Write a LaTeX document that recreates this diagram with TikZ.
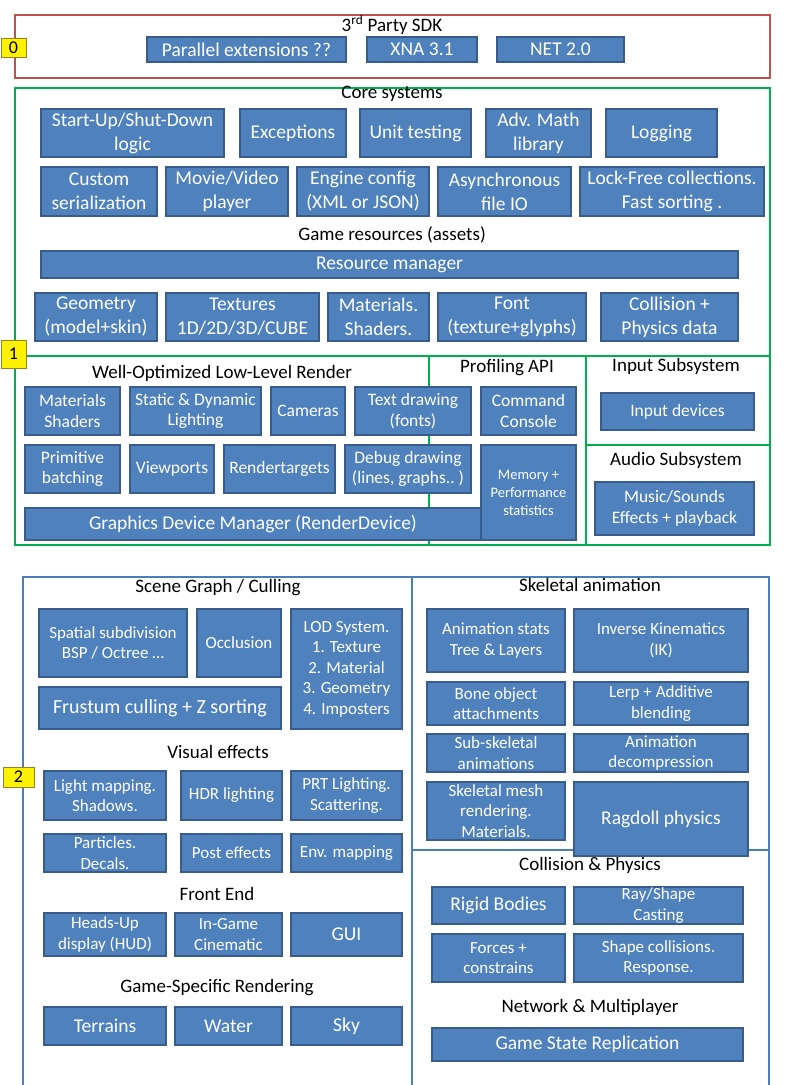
\documentclass[tikz,border=0pt]{standalone}
\usepackage{fontspec}
\setmainfont{Carlito}
\definecolor{boxblue}{RGB}{79,129,189}
\definecolor{boxedge}{RGB}{56,93,138}
\definecolor{sdkred}{RGB}{192,80,77}
\definecolor{coregreen}{RGB}{0,176,80}
\definecolor{gameblue}{RGB}{74,126,187}
\definecolor{tagedge}{RGB}{150,130,40}
\tikzset{
  blk/.style={fill=boxblue,draw=boxedge,line width=1.2pt,text=white,align=center,inner sep=0pt,outer sep=0pt,font=\fontsize{17.5}{20.5}\selectfont},
  blktop/.style={blk,font=\fontsize{19.5}{24}\selectfont},
  blklow/.style={blk,font=\fontsize{17}{20.5}\selectfont},
  blkbig/.style={blk,font=\fontsize{19.5}{23}\selectfont},
  hdr/.style={text=black,inner sep=0pt,font=\fontsize{19}{22}\selectfont},
  tag/.style={fill=yellow,draw=tagedge,line width=.8pt,inner sep=0pt,font=\fontsize{18}{20}\selectfont},
  % box given by its two corners
  span/.style n args={4}{minimum width={(#3-#1)*1pt},minimum height={(#4-#2)*1pt}}
}
\begin{document}
\begin{tikzpicture}[x=1pt,y=-1pt]
\useasboundingbox (0,0) rectangle (785,1085);
% frames
\draw[sdkred,line width=1.5pt] (15,15) rectangle (770,78);
\draw[coregreen,line width=1.5pt] (15,88) rectangle (770,545)
  (15,356)--(770,356) (429,356)--(429,545) (586,356)--(586,545) (586,445)--(770,445);
\draw[gameblue,line width=1.5pt] (23,1095)--(23,577)--(769,577)--(769,1095)
  (412,577)--(412,1095) (412,850)--(769,850);
% level tags
\foreach \n/\xa/\ya/\xb/\yb/\t in {t0/1/38/26/57/0,t1/1/340/26/368/1,t2/3/767/34/787/2}
  \path ({(\xa+\xb)/2},{(\ya+\yb)/2}) node[tag,span={\xa}{\ya}{\xb}{\yb}] (\n) {\t};
% titles
\path
  foreach \n/\x/\y/\t in {sdk/392/25/{3\textsuperscript{rd} Party SDK},core/392/94/Core systems,
    res/392/235/Game resources (assets),llr/222/373/Well-Optimized Low-Level Render,
    prof/507/368/Profiling API,inp/676/366/Input Subsystem,aud/676/460/Audio Subsystem,
    scg/218/588/{Scene Graph / Culling},vfx/218/752/Visual effects,fe/217/894/Front End,
    gsr/217/988/Game-Specific Rendering,skel/590/585/Skeletal animation,
    cphy/590/865/Collision \& Physics,net/590/1007/Network \& Multiplayer}
  {(\x,\y) node[hdr] (h\n) {\t}};
% 3rd party + core
\foreach \n/\xa/\ya/\xb/\yb/\t in {
    par/147/37/346/62/Parallel extensions ??,xna/367/37/477/62/XNA 3.1,netf/497/37/624/62/NET 2.0,
    su/41/109/224/157/{Start-Up/Shut-Down\\logic},exc/240/109/346/157/Exceptions,
    ut/360/109/471/157/Unit testing,am/486/109/591/157/Adv. Math\\library,log/606/109/717/157/Logging,
    cs/41/167/157/216/Custom\\serialization,mv/166/167/288/216/{Movie/Video\\player},
    ec/297/167/429/216/Engine config\\(XML or JSON),af/438/167/571/216/Asynchronous\\file IO,
    lf/580/167/764/216/Lock-Free collections.\\Fast sorting .,
    rm/41/251/738/278/Resource manager,
    geo/35/293/157/341/Geometry\\(model+skin),tex/166/293/319/341/{Textures\\1D/2D/3D/CUBE},
    mat/328/293/429/341/Materials.\\Shaders.,fnt/438/293/586/341/Font\\(texture+glyphs),
    col/601/293/738/341/Collision +\\Physics data}
  \path ({(\xa+\xb)/2},{(\ya+\yb)/2}) node[blktop,span={\xa}{\ya}{\xb}{\yb}] (\n) {\t};
% render, profiling, input, audio
\foreach \n/\xa/\ya/\xb/\yb/\t in {
    ms/25/387/120/435/Materials\\Shaders,sd/130/387/261/435/Static \& Dynamic\\Lighting,
    cam/271/387/345/435/Cameras,td/355/387/471/435/Text drawing\\(fonts),
    cc/481/387/576/435/Command\\Console,pb/25/445/120/493/Primitive\\batching,
    vp/130/445/214/493/Viewports,rt/224/445/335/493/Rendertargets,
    dd/345/445/471/493/{Debug drawing\\(lines, graphs..\ )},
    id/601/393/754/430/Input devices,mu/595/482/754/535/{Music/Sounds\\Effects + playback}}
  \path ({(\xa+\xb)/2},{(\ya+\yb)/2}) node[blk,span={\xa}{\ya}{\xb}{\yb}] (\n) {\t};
\node[blk,font=\fontsize{14.5}{18}\selectfont,span={481}{445}{576}{540}] (mp) at (528.5,492.5) {Memory +\\Performance\\statistics};
\node[blk,font=\fontsize{19.5}{22}\selectfont,span={25}{508}{481}{540}] (gdm) at (253,524) {Graphics Device Manager (RenderDevice)};
% game layer
\foreach \n/\xa/\ya/\xb/\yb/\t in {
    ss/39/609/187/677/{Spatial subdivision\\BSP / Octree \ldots},occ/197/609/281/677/Occlusion,
    lod/291/609/402/729/LOD System.\\1. Texture\\2. Material\\3. Geometry\\4. Imposters,
    lm/44/771/166/820/Light mapping.\\Shadows.,hdrl/181/771/282/820/HDR lighting,
    prt/291/771/402/820/PRT Lighting.\\Scattering.,pd/44/834/166/872/Particles.\\Decals.,
    pe/181/834/282/872/Post effects,env/291/834/402/872/Env. mapping,
    hud/44/913/166/956/Heads-Up\\display (HUD),igc/175/913/282/956/In-Game\\Cinematic,
    as/427/609/565/672/Animation stats\\Tree \& Layers,ik/574/609/748/672/Inverse Kinematics\\(IK),
    bo/427/682/565/725/Bone object\\attachments,lerp/574/682/748/725/Lerp + Additive\\blending,
    sub/427/734/565/772/Sub-skeletal\\animations,dec/574/734/748/772/Animation\\decompression,
    smr/427/782/565/840/Skeletal mesh\\rendering.\\Materials.,
    rs/574/887/743/924/{Ray/Shape\\Casting},fc/432/934/565/982/Forces +\\constrains,
    sc/574/934/743/982/Shape collisions.\\Response.}
  \path ({(\xa+\xb)/2},{(\ya+\yb)/2}) node[blklow,span={\xa}{\ya}{\xb}{\yb}] (\n) {\t};
\foreach \n/\xa/\ya/\xb/\yb/\t in {
    gui/291/913/402/956/GUI,
    ter/44/1007/166/1045/Terrains,wat/175/1007/282/1045/Water,sky/291/1007/402/1045/Sky,
    rag/574/782/748/856/Ragdoll physics,rb/432/887/565/924/Rigid Bodies,
    gsrep/432/1028/743/1061/Game State Replication}
  \path ({(\xa+\xb)/2},{(\ya+\yb)/2}) node[blkbig,span={\xa}{\ya}{\xb}{\yb}] (\n) {\t};
\node[blk,font=\fontsize{20}{23}\selectfont,span={39}{687}{281}{729}] (fr) at (160,708) {Frustum culling + Z sorting};
\end{tikzpicture}
\end{document}
